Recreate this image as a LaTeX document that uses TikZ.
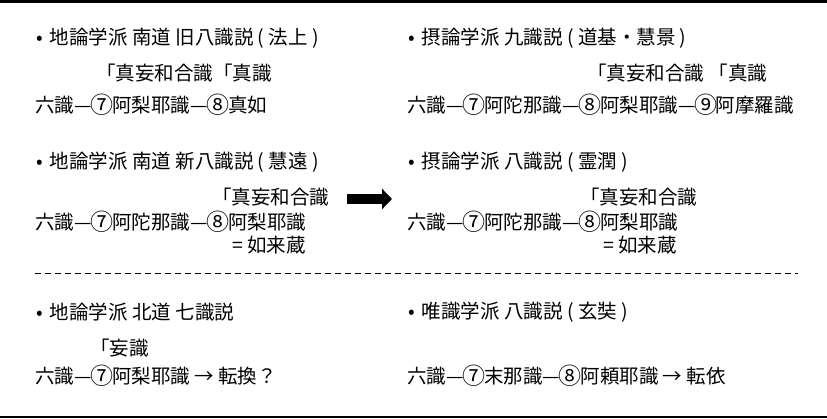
\documentclass[tikz,border=0pt]{standalone}
\usepackage{fontspec}
\setmainfont{Noto Sans CJK JP}
\usetikzlibrary{arrows.meta}
% circled numbers drawn a little larger than the running text
\newcommand{\cnum}[1]{\makebox[1.05em]{\raisebox{-0.08em}{\fontsize{23}{23}\selectfont #1}}}
\newcommand{\dotsp}{•\hspace{7pt}}

\begin{document}
\begin{tikzpicture}[x=1pt, y=-1pt,
    hd/.style={anchor=west, inner sep=0pt, font=\fontsize{19.5}{23}\selectfont},
    txt/.style={anchor=west, inner sep=0pt, font=\fontsize{19.5}{23}\selectfont},
    brk/.style={anchor=west, inner sep=0pt, font=\fontsize{19.5}{23}\selectfont}]
    \useasboundingbox (0,0) rectangle (827,419);

    % 1. Frame: thick rule on top, thinner rule at the bottom
    \draw[line width=3.5pt] (0,1.75) -- (827,1.75);
    \draw[line width=2.5pt] (0,417) -- (827,417);

    % --- Left column ---
    \node[hd]  (hdA)  at (36,38)  {\dotsp 地論学派 南道 旧八識説 ( 法上 )};
    \node[brk] (brA)  at (96,73)  {「真妄和合識「真識};
    \node[txt] (chA)  at (35,105) {六識—\cnum{⑦}阿梨耶識—\cnum{⑧}真如};

    \node[hd]  (hdB)  at (36,162) {\dotsp 地論学派 南道 新八識説 ( 慧遠 )};
    \node[brk] (brB)  at (212,197) {「真妄和合識};
    \node[txt] (chB)  at (35,222) {六識—\cnum{⑦}阿陀那識—\cnum{⑧}阿梨耶識};
    \node[txt] (eqB)  at (232,245) {= 如来蔵};

    \node[hd]  (hdC)  at (36,312) {\dotsp 地論学派 北道 七識説};
    \node[brk] (brC)  at (90,348) {「妄識};
    \node[txt] (chC)  at (35,376) {六識—\cnum{⑦}阿梨耶識 → 転換？};

    % --- Right column ---
    \node[hd]  (hdD)  at (408,38)  {\dotsp 摂論学派 九識説 ( 道基・慧景 )};
    \node[brk] (brD)  at (587,73)  {「真妄和合識 「真識};
    \node[txt] (chD)  at (407,105)
        {六識—\cnum{⑦}阿陀那識—\cnum{⑧}阿梨耶識—\cnum{⑨}阿摩羅識};

    \node[hd]  (hdE)  at (408,162) {\dotsp 摂論学派 八識説 ( 霊潤 )};
    \node[brk] (brE)  at (580,197) {「真妄和合識};
    \node[txt] (chE)  at (407,222) {六識—\cnum{⑦}阿陀那識—\cnum{⑧}阿梨耶識};
    \node[txt] (eqE)  at (603,245) {= 如来蔵};

    \node[hd]  (hdF)  at (408,312) {\dotsp 唯識学派 八識説 ( 玄奘 )};
    \node[txt] (chF)  at (407,376) {六識—\cnum{⑦}末那識—\cnum{⑧}阿頼耶識 → 転依};

    % big arrow from old to new eight-consciousness view
    \coordinate (arS) at (347,199);
    \coordinate (arE) at (392,199);
    \draw[line width=10pt, -{Triangle[length=10pt, width=20pt]}] (arS) -- (arE);

    % separator
    \coordinate (dsL) at (35,273);
    \coordinate (dsR) at (798,273);
    \draw[dash pattern=on 6pt off 4pt] (dsL) -- (dsR);
\end{tikzpicture}
\end{document}
